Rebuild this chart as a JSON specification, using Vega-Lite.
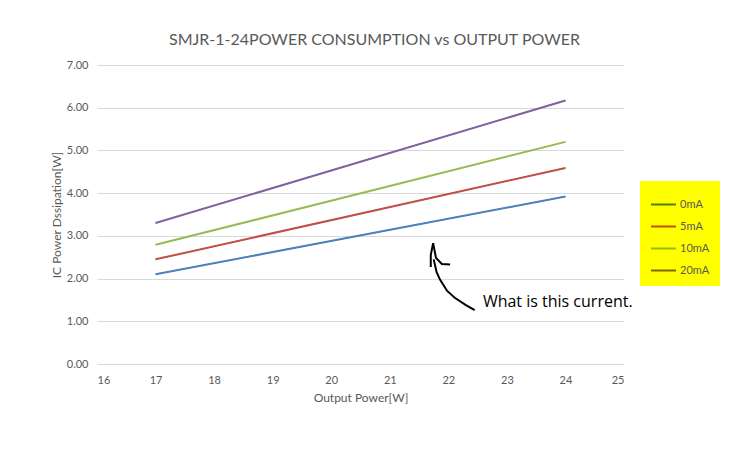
{
  "$schema": "https://vega.github.io/schema/vega-lite/v6.json",
  "width": 527,
  "height": 299,
  "autosize": {"type": "none"},
  "padding": {"left": 97, "top": 65, "right": 120, "bottom": 90},
  "background": "white",
  "title": {
    "text": "SMJR-1-24POWER CONSUMPTION vs OUTPUT POWER",
    "font": "Lato",
    "fontSize": 16,
    "fontWeight": "normal",
    "color": "#595959",
    "anchor": "middle",
    "dx": 14,
    "offset": 11
  },
  "config": {
    "view": {"stroke": null},
    "font": "Lato"
  },
  "datasets": {
    "series": [
      {"power": 17, "dissipation": 2.10, "current": "0mA"},
      {"power": 24, "dissipation": 3.92, "current": "0mA"},
      {"power": 17, "dissipation": 2.45, "current": "5mA"},
      {"power": 24, "dissipation": 4.59, "current": "5mA"},
      {"power": 17, "dissipation": 2.79, "current": "10mA"},
      {"power": 24, "dissipation": 5.20, "current": "10mA"},
      {"power": 17, "dissipation": 3.30, "current": "20mA"},
      {"power": 24, "dissipation": 6.17, "current": "20mA"}
    ],
    "arrow": [
      {"stroke": "a", "seq": 1, "x": 21.74, "y": 2.83},
      {"stroke": "a", "seq": 2, "x": 21.70, "y": 2.55},
      {"stroke": "a", "seq": 3, "x": 21.70, "y": 2.27},
      {"stroke": "b", "seq": 1, "x": 21.74, "y": 2.83},
      {"stroke": "b", "seq": 2, "x": 21.79, "y": 2.48},
      {"stroke": "b", "seq": 3, "x": 21.89, "y": 2.34},
      {"stroke": "b", "seq": 4, "x": 22.03, "y": 2.33},
      {"stroke": "c", "seq": 1, "x": 21.75, "y": 2.45},
      {"stroke": "c", "seq": 2, "x": 21.80, "y": 2.15},
      {"stroke": "c", "seq": 3, "x": 21.86, "y": 1.97},
      {"stroke": "c", "seq": 4, "x": 21.98, "y": 1.71},
      {"stroke": "c", "seq": 5, "x": 22.11, "y": 1.55},
      {"stroke": "c", "seq": 6, "x": 22.30, "y": 1.38},
      {"stroke": "c", "seq": 7, "x": 22.45, "y": 1.26}
    ],
    "note": [
      {"x": 22.59, "y": 1.45, "label": "What is this current."}
    ]
  },
  "layer": [
    {
      "data": {"name": "series"},
      "mark": {"type": "line", "strokeWidth": 1},
      "encoding": {
        "x": {
          "field": "power",
          "type": "quantitative",
          "scale": {"domain": [16, 25], "nice": false, "zero": false},
          "axis": {
            "title": "Output Power[W]",
            "values": [16, 17, 18, 19, 20, 21, 22, 23, 24, 25],
            "format": "d",
            "grid": false,
            "domain": false,
            "ticks": false,
            "labelPadding": 10,
            "labelFont": "Lato",
            "labelFontSize": 11,
            "labelColor": "#595959",
            "titleFont": "Lato",
            "titleFontSize": 12,
            "titleFontWeight": "normal",
            "titleColor": "#595959",
            "titlePadding": 7
          }
        },
        "y": {
          "field": "dissipation",
          "type": "quantitative",
          "scale": {"domain": [0, 7], "nice": false},
          "axis": {
            "title": "IC Power Dssipation[W]",
            "values": [0, 1, 2, 3, 4, 5, 6, 7],
            "format": ".2f",
            "grid": true,
            "gridColor": "#d9d9d9",
            "gridWidth": 1,
            "domain": false,
            "ticks": false,
            "labelPadding": 9,
            "labelFont": "Lato",
            "labelFontSize": 11,
            "labelColor": "#595959",
            "titleFont": "Lato",
            "titleFontSize": 12,
            "titleFontWeight": "normal",
            "titleColor": "#595959",
            "titlePadding": 3
          }
        },
        "stroke": {
          "field": "current",
          "type": "nominal",
          "scale": {
            "domain": ["0mA", "5mA", "10mA", "20mA"],
            "range": ["#4F8100", "#C05000", "#9BBB00", "#806400"]
          },
          "legend": {
            "title": null,
            "orient": "none",
            "legendX": 543,
            "legendY": 116,
            "padding": 10,
            "fillColor": "#ffff00",
            "symbolType": "stroke",
            "symbolSize": 625,
            "symbolStrokeWidth": 2,
            "labelFont": "Lato",
            "labelFontSize": 11,
            "labelColor": "#595959",
            "labelOffset": 3,
            "rowPadding": 3
          }
        }
      }
    },
    {
      "data": {"name": "series"},
      "mark": {"type": "line", "strokeWidth": 2},
      "encoding": {
        "x": {"field": "power", "type": "quantitative"},
        "y": {"field": "dissipation", "type": "quantitative"},
        "color": {
          "field": "current",
          "type": "nominal",
          "scale": {
            "domain": ["0mA", "5mA", "10mA", "20mA"],
            "range": ["#4F81BD", "#C0504D", "#9BBB59", "#8064A2"]
          },
          "legend": null
        }
      }
    },
    {
      "data": {"name": "arrow"},
      "mark": {"type": "line", "color": "black", "strokeWidth": 2, "interpolate": "linear", "clip": false},
      "encoding": {
        "x": {"field": "x", "type": "quantitative"},
        "y": {"field": "y", "type": "quantitative"},
        "detail": {"field": "stroke"},
        "order": {"field": "seq"}
      }
    },
    {
      "data": {"name": "note"},
      "mark": {"type": "text", "align": "left", "baseline": "middle", "font": "Open Sans", "fontSize": 16, "color": "black"},
      "encoding": {
        "x": {"field": "x", "type": "quantitative"},
        "y": {"field": "y", "type": "quantitative"},
        "text": {"field": "label"}
      }
    }
  ]
}
